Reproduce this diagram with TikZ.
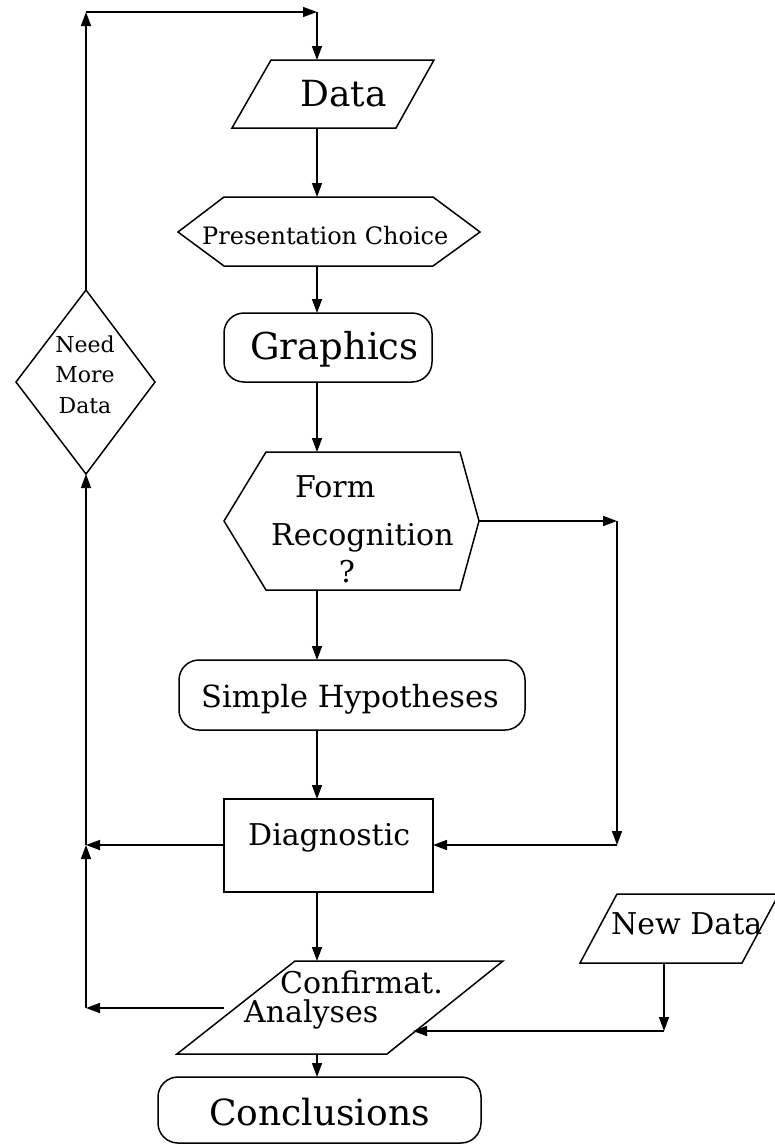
\documentclass[tikz,border=0pt]{standalone}
\usepackage{fontspec}
\setmainfont{DejaVu Serif}
\usetikzlibrary{arrows.meta}
\begin{document}
\begin{tikzpicture}[x=1pt,y=-1pt,
  shp/.style={line width=1.5pt, line join=miter},
  rbox/.style={shp, rounded corners=20pt},
  arr/.style={line width=1.5pt,-{Triangle[length=14pt,width=10pt]}},
  lbl/.style={inner sep=0pt, anchor=base west},
  lblc/.style={inner sep=0pt, anchor=base},
  fA/.style={font=\fontsize{36pt}{40pt}\selectfont},
  fB/.style={font=\fontsize{30pt}{34pt}\selectfont},
  fC/.style={font=\fontsize{24pt}{28pt}\selectfont},
  fD/.style={font=\fontsize{22pt}{26pt}\selectfont},
  ]
\useasboundingbox (0,0) rectangle (774,1146);

% ---- shapes ----
% Data
\draw[shp] (271,60) -- (434,60) -- (396,128) -- (232,128) -- cycle;
\node[lbl,fA] (data) at (300,106) {Data};
% Presentation Choice
\draw[shp] (224,197) -- (433,197) -- (480,232) -- (433,266) -- (224,266) -- (178,232) -- cycle;
\node[lbl,fC] (pres) at (202,244) {Presentation Choice};
% Graphics
\draw[rbox] (224,313) rectangle (432,382);
\node[lbl,font=\fontsize{37pt}{40pt}\selectfont] (graph) at (250,359) {Graphics};
% Form Recognition
\draw[shp] (266,452) -- (460,452) -- (479,521) -- (460,590) -- (266,590) -- (224,521) -- cycle;
\node[lbl,fB] (form1) at (295,497) {Form};
\node[lbl,fB] (form2) at (271,545) {Recognition};
\node[lblc,fB] (form3) at (347,582) {?};
% Need More Data
\draw[shp] (86,290) -- (155,382) -- (86,474) -- (16,382) -- cycle;
\node[lblc,fD] (need1) at (85,352) {Need};
\node[lblc,fD] (need2) at (85,382) {More};
\node[lblc,fD] (need3) at (85,413) {Data};
% Simple Hypotheses
\draw[rbox] (179,660) rectangle (525,730);
\node[lbl,font=\fontsize{30.5pt}{34pt}\selectfont] (simp) at (201,707) {Simple Hypotheses};
% Diagnostic
\draw[shp] (224,799) rectangle (433,892);
\node[lbl,fB] (diag) at (248,845) {Diagnostic};
% New Data
\draw[shp] (617,894) -- (779,894) -- (742,963) -- (580,963) -- cycle;
\node[lbl,fB] (newd) at (611,934) {New Data};
% Confirmat. Analyses
\draw[shp] (295,961) -- (503,961) -- (387,1054) -- (177,1054) -- cycle;
\node[lbl,fB] (conf1) at (280,993) {Confirmat.};
\node[lbl,fB] (conf2) at (244,1022) {Analyses};
% Conclusions
\draw[rbox] (158,1077) rectangle (481,1143);
\node[lbl,fA] (concl) at (209,1125) {Conclusions};

% ---- connector points ----
\coordinate (needN) at (86,290);
\coordinate (needS) at (86,474);
\coordinate (cTL) at (86,12);
\coordinate (cTR) at (317,12);
\coordinate (dataN) at (317,60);
\coordinate (dataS) at (317,128);
\coordinate (presN) at (317,197);
\coordinate (presS) at (317,266);
\coordinate (graphN) at (317,313);
\coordinate (graphS) at (317,382);
\coordinate (formN) at (317,452);
\coordinate (formS) at (317,590);
\coordinate (formE) at (479,521);
\coordinate (cR1) at (617,521);
\coordinate (cR2) at (617,845);
\coordinate (simpN) at (317,660);
\coordinate (simpS) at (317,730);
\coordinate (diagN) at (317,799);
\coordinate (diagS) at (317,892);
\coordinate (diagE) at (433,845);
\coordinate (diagW) at (224,845);
\coordinate (cL1) at (86,845);
\coordinate (cL2) at (86,1008);
\coordinate (confW) at (224,1008);
\coordinate (confN) at (317,961);
\coordinate (confS) at (317,1054);
\coordinate (confE) at (413,1031);
\coordinate (newdS) at (664,963);
\coordinate (cN1) at (664,1031);
\coordinate (conclN) at (317,1077);

% ---- connectors ----
\draw[arr] (needN) -- (cTL);
\draw[arr] (cTL) -- (cTR);
\draw[arr] (cTR) -- (dataN);
\draw[arr] (dataS) -- (presN);
\draw[arr] (presS) -- (graphN);
\draw[arr] (graphS) -- (formN);
\draw[arr] (formE) -- (cR1);
\draw[arr] (cR1) -- (cR2);
\draw[arr] (cR2) -- (diagE);
\draw[arr] (formS) -- (simpN);
\draw[arr] (simpS) -- (diagN);
\draw[arr] (diagW) -- (cL1);
\draw[arr] (cL1) -- (needS);
\draw[arr] (confW) -- (cL2);
\draw[arr] (cL2) -- (cL1);
\draw[arr] (diagS) -- (confN);
\draw[arr] (newdS) -- (cN1);
\draw[arr] (cN1) -- (confE);
\draw[arr] (confS) -- (conclN);
\end{tikzpicture}
\end{document}
